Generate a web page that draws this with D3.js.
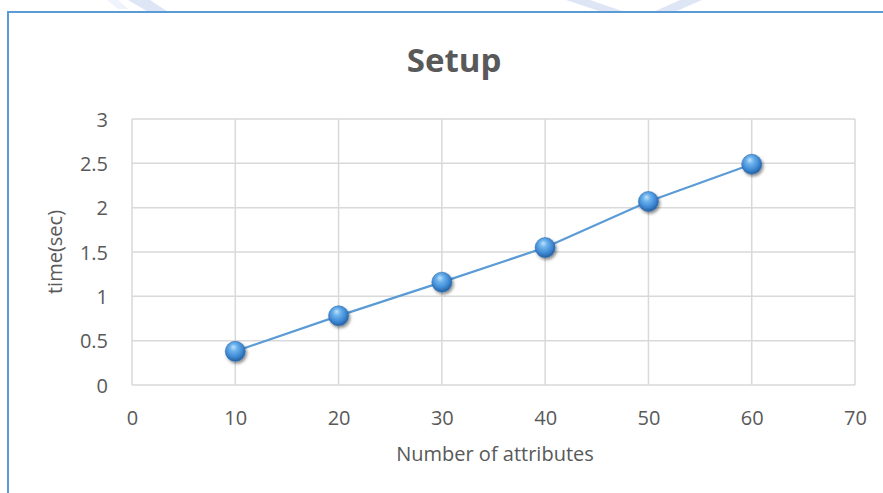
<!DOCTYPE html>
<html>
<head>
<meta charset="utf-8">
<script src="https://cdn.jsdelivr.net/npm/d3@7"></script>
<style>
  html, body { margin: 0; padding: 0; background: #ffffff; overflow: hidden; }
  svg { display: block; }
  text { font-family: "Open Sans", "Noto Sans", sans-serif; fill: #595959; }
</style>
</head>
<body>
<svg id="chart" width="883" height="493"></svg>
<script>
// Setup time measured per number of attributes
const attributes = [10, 20, 30, 40, 50, 60];
const setupTime = [0.38, 0.78, 1.16, 1.55, 2.07, 2.49];

const xTicks = [0, 10, 20, 30, 40, 50, 60, 70];
const yTicks = [0, 0.5, 1, 1.5, 2, 2.5, 3];

const chartTitle = "Setup";
const xTitle = "Number of attributes";
const yTitle = "time(sec)";

const W = 883, H = 493;
const plot = { left: 132, right: 855, top: 119, bottom: 385 };

const svg = d3.select("#chart");
const defs = svg.append("defs");

// glossy sphere fill for the markers
const grad = defs.append("radialGradient")
  .attr("id", "sphere")
  .attr("cx", "45%").attr("cy", "40%").attr("r", "60%")
  .attr("fx", "40%").attr("fy", "28%");
grad.append("stop").attr("offset", "0%").attr("stop-color", "#bfe3fb");
grad.append("stop").attr("offset", "30%").attr("stop-color", "#6db3ec");
grad.append("stop").attr("offset", "70%").attr("stop-color", "#3f8ad6");
grad.append("stop").attr("offset", "100%").attr("stop-color", "#245f9f");

const shadow = defs.append("filter").attr("id", "shadow")
  .attr("x", "-50%").attr("y", "-50%").attr("width", "200%").attr("height", "200%");
shadow.append("feDropShadow")
  .attr("dx", 1.5).attr("dy", 2).attr("stdDeviation", 1.4)
  .attr("flood-color", "#000").attr("flood-opacity", 0.45);

// faint page ornament above the chart frame
const ornament = svg.append("g").attr("fill", "#d6e1f3").attr("opacity", 0.8);
ornament.append("path").attr("d", "M128,0 L150,0 L170,13 L150,13 Z");
ornament.append("path").attr("d", "M107,0 L118,0 L128,9 L118,9 Z").attr("opacity", 0.5);
ornament.append("path").attr("d", "M566,0 L590,0 L628,13 L605,13 Z");
ornament.append("path").attr("d", "M702,0 L680,0 L651,13 L672,13 Z");

// chart frame
svg.append("rect")
  .attr("x", 8).attr("y", 12)
  .attr("width", W + 20).attr("height", H + 20)
  .attr("fill", "#ffffff")
  .attr("stroke", "#5b9bd5").attr("stroke-width", 2);

const x = d3.scaleLinear().domain([0, 70]).range([plot.left, plot.right]);
const y = d3.scaleLinear().domain([0, 3]).range([plot.bottom, plot.top]);

// gridlines
const grid = svg.append("g").attr("stroke", "#d9d9d9").attr("stroke-width", 1.5);
grid.selectAll("line.h").data(yTicks).join("line")
  .attr("class", "h")
  .attr("x1", plot.left).attr("x2", plot.right)
  .attr("y1", d => y(d)).attr("y2", d => y(d));
grid.selectAll("line.v").data(xTicks).join("line")
  .attr("class", "v")
  .attr("x1", d => x(d)).attr("x2", d => x(d))
  .attr("y1", plot.top).attr("y2", plot.bottom);

// axes (labels only; the gridlines act as axis lines)
const xAxis = d3.axisBottom(x).tickValues(xTicks).tickSize(0).tickPadding(0).tickFormat(d3.format("d"));
const gx = svg.append("g").attr("transform", `translate(0,${plot.bottom})`).call(xAxis);
gx.select(".domain").remove();
gx.selectAll("text")
  .attr("dy", null).attr("y", 40)
  .style("font-size", "20px").attr("fill", "#595959")
  .style("font-family", '"Open Sans", sans-serif');

const yAxis = d3.axisLeft(y).tickValues(yTicks).tickSize(0).tickPadding(0).tickFormat(d3.format("~g"));
const gy = svg.append("g").attr("transform", `translate(108,0)`).call(yAxis);
gy.select(".domain").remove();
gy.selectAll("text")
  .attr("dy", "0.35em").attr("x", 0)
  .style("font-size", "20px").attr("fill", "#595959")
  .style("font-family", '"Open Sans", sans-serif');

// title and axis titles
svg.append("text")
  .attr("x", 454).attr("y", 72)
  .attr("text-anchor", "middle")
  .style("font-size", "33px").style("font-weight", "bold")
  .text(chartTitle);

svg.append("text")
  .attr("x", 495).attr("y", 461)
  .attr("text-anchor", "middle")
  .style("font-size", "20px")
  .text(xTitle);

svg.append("text")
  .attr("transform", `translate(62,252) rotate(-90)`)
  .attr("text-anchor", "middle")
  .style("font-size", "20px")
  .text(yTitle);

// series line
const pts = attributes.map((a, i) => [a, setupTime[i]]);
svg.append("path")
  .datum(pts)
  .attr("fill", "none")
  .attr("stroke", "#5b9bd5")
  .attr("stroke-width", 2.2)
  .attr("d", d3.line().x(d => x(d[0])).y(d => y(d[1])));

// sphere markers
svg.append("g").selectAll("circle").data(pts).join("circle")
  .attr("cx", d => x(d[0])).attr("cy", d => y(d[1]))
  .attr("r", 10)
  .attr("fill", "url(#sphere)")
  .attr("stroke", "#2f6fb3").attr("stroke-width", 0.6)
  .attr("filter", "url(#shadow)");
</script>
</body>
</html>
